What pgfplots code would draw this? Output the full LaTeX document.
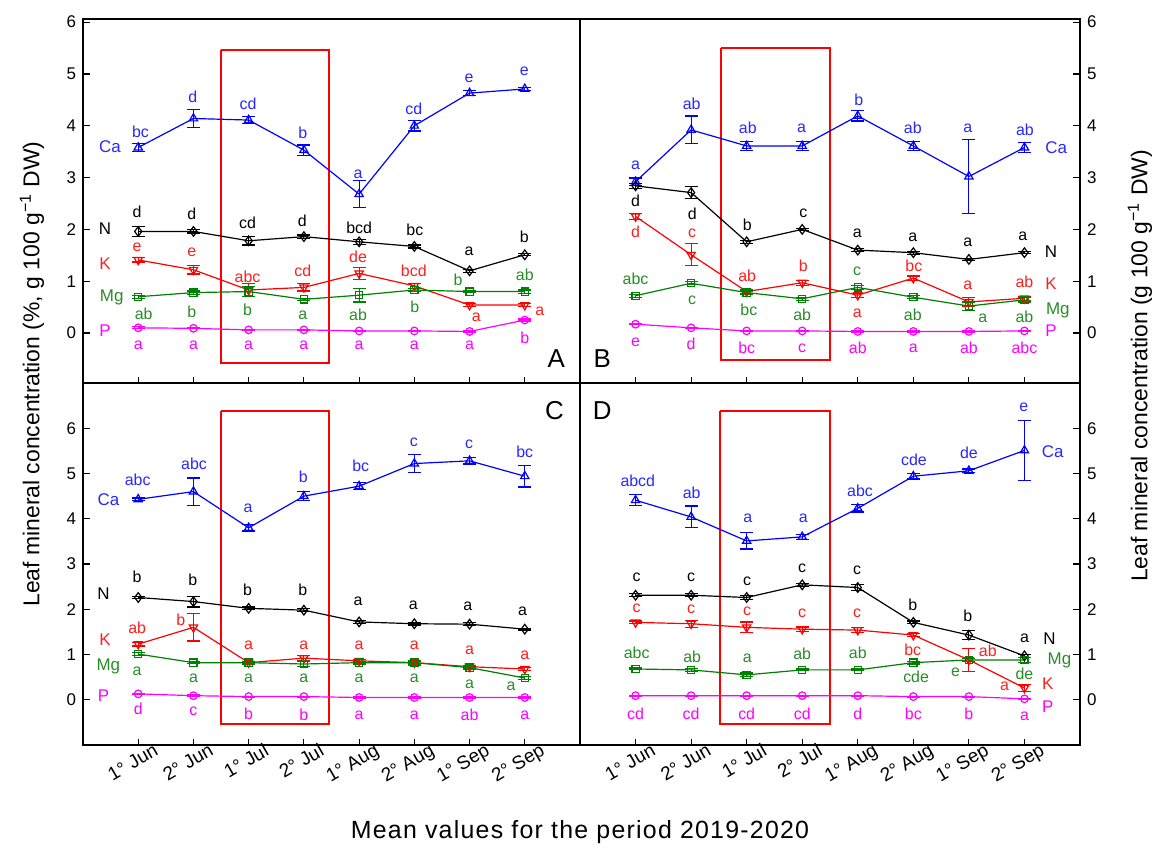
\documentclass[border=0pt]{standalone}
\usepackage{fontspec}
\setmainfont{Liberation Sans}
\usepackage{pgfplots}
\pgfplotsset{compat=1.18}
\definecolor{cablue}{RGB}{0,0,255}
\definecolor{catext}{RGB}{40,40,255}
\definecolor{kred}{RGB}{255,0,0}
\definecolor{ktext}{RGB}{255,30,30}
\definecolor{mggreen}{RGB}{0,128,0}
\definecolor{mgtext}{RGB}{40,140,40}
\definecolor{pmag}{RGB}{255,0,255}
\newcommand\labfont{\fontsize{8}{9}\selectfont}
\newcommand\serfont{\fontsize{8.5}{10}\selectfont}
\newcommand\panfont{\fontsize{13}{15}\selectfont}
\newcommand\tickfont{\fontsize{8.5}{10}\selectfont}
\newcommand\axfont{\fontsize{11.5}{13}\selectfont}
\newcommand{\T}[4]{\node[text=#1,font=\labfont,inner sep=0pt,anchor=center] at (axis cs:#2,#3) {#4};}
\newcommand{\SL}[4]{\node[text=#1,font=\serfont,inner sep=0pt,anchor=center] at (axis cs:#2,#3) {#4};}
\newcommand{\PL}[3]{\node[font=\panfont,inner sep=0pt,anchor=center] at (axis cs:#1,#2) {#3};}
\pgfplotsset{
  panel/.style={
    scale only axis, clip=false,
    xmin=0, xmax=9, xtick={1,...,8},
    tick align=inside, xtick pos=bottom,
    major tick length=3.25bp,
    tick style={line width=0.6pt, black},
    axis line style={line width=0.8pt},
    ytick={0,...,6},
    tick label style={font=\tickfont},
    /pgf/number format/assume math mode=true,
  },
  toppanel/.style={panel, height=182bp, ymin=-0.965, ymax=6.06, xticklabels={}},
  botpanel/.style={panel, height=181bp, ymin=-1, ymax=7,
    xticklabels={1° Jun, 2° Jun, 1° Jul, 2° Jul, 1° Aug, 2° Aug, 1° Sep, 2° Sep},
    xticklabel style={rotate=30, anchor=north east, font=\fontsize{9.5}{11}\selectfont, inner sep=1bp, xshift=8bp, yshift=-1.5bp}},
  leftpanel/.style={ytick pos=left},
  rightpanel/.style={ytick pos=right, yticklabel pos=right},
  box/.style={color=kred, line width=1pt, no marks},
  ca/.style={color=cablue, line width=0.6pt, mark=triangle, mark size=2.4bp, mark options={fill=white,solid}},
  nn/.style={color=black, line width=0.6pt, mark=diamond, mark size=2.4bp, mark options={fill=white,solid}},
  kk/.style={color=kred, line width=0.6pt, mark=triangle, mark size=2.4bp, mark options={fill=white,solid,rotate=180}},
  mg/.style={color=mggreen, line width=0.6pt, mark=square, mark size=1.8bp, mark options={fill=white,solid}},
  pp/.style={color=pmag, line width=0.6pt, mark=o, mark size=1.9bp, mark options={fill=white,solid}},
  eb/.style={error bars/.cd, y dir=both, y explicit,
    error mark options={rotate=90, mark size=3.25bp, line width=0.6pt},
    error bar style={line width=0.6pt}},
}
\begin{document}
\begin{tikzpicture}
\path[use as bounding box] (0,0) rectangle (578.5bp,-424bp);
% ---------------- A ----------------
\begin{axis}[toppanel, leftpanel, width=248.5bp, at={(41.5bp,-191.5bp)}, anchor=south west]
\addplot[box] coordinates {(2.5,5.46) (4.45,5.46) (4.45,-0.57) (2.5,-0.57) (2.5,5.46)};
\addplot[ca,eb] coordinates {(1,3.58)+-(0,0.08) (2,4.14)+-(0,0.18) (3,4.11)+-(0,0.07) (4,3.53)+-(0,0.1) (5,2.68)+-(0,0.26) (6,4.0)+-(0,0.1) (7,4.63)+-(0,0.05) (8,4.71)+-(0,0.03)};
\addplot[nn,eb] coordinates {(1,1.96)+-(0,0.1) (2,1.96)+-(0,0.03) (3,1.78)+-(0,0.08) (4,1.86)+-(0,0.03) (5,1.76)+-(0,0.05) (6,1.67)+-(0,0.03) (7,1.20)+-(0,0.03) (8,1.51)+-(0,0.02)};
\addplot[kk,eb] coordinates {(1,1.41)+-(0,0.04) (2,1.22)+-(0,0.08) (3,0.83)+-(0,0.13) (4,0.88)+-(0,0.07) (5,1.15)+-(0,0.12) (6,0.91)+-(0,0.05) (7,0.54)+-(0,0.03) (8,0.54)+-(0,0.03)};
\addplot[mg,eb] coordinates {(1,0.70)+-(0,0.03) (2,0.78)+-(0,0.03) (3,0.80)+-(0,0.1) (4,0.65)+-(0,0.02) (5,0.73)+-(0,0.13) (6,0.83)+-(0,0.03) (7,0.80)+-(0,0.02) (8,0.80)+-(0,0.03)};
\addplot[pp,eb] coordinates {(1,0.10)+-(0,0.02) (2,0.09)+-(0,0.01) (3,0.06)+-(0,0.01) (4,0.06)+-(0,0.01) (5,0.04)+-(0,0.01) (6,0.04)+-(0,0.01) (7,0.03)+-(0,0.01) (8,0.25)+-(0,0.02)};
\T{catext}{1.04}{3.89}{bc}\T{catext}{1.99}{4.56}{d}\T{catext}{2.99}{4.42}{cd}\T{catext}{3.98}{3.87}{b}
\T{catext}{4.98}{3.07}{a}\T{catext}{5.99}{4.32}{cd}\T{catext}{6.99}{4.92}{e}\T{catext}{7.99}{5.06}{e}
\SL{catext}{0.49}{3.60}{Ca}
\T{black}{0.98}{2.33}{d}\T{black}{1.97}{2.30}{d}\T{black}{2.98}{2.12}{cd}\T{black}{3.97}{2.16}{d}
\T{black}{5.0}{2.04}{bcd}\T{black}{6.01}{2.0}{bc}\T{black}{6.99}{1.57}{a}\T{black}{7.99}{1.85}{b}
\SL{black}{0.40}{2.01}{N}
\T{ktext}{0.98}{1.66}{e}\T{ktext}{1.97}{1.55}{e}\T{ktext}{2.98}{1.08}{abc}\T{ktext}{3.98}{1.21}{cd}
\T{ktext}{4.98}{1.48}{de}\T{ktext}{5.99}{1.20}{bcd}\T{ktext}{7.12}{0.31}{a}\T{ktext}{8.27}{0.41}{a}
\SL{ktext}{0.40}{1.34}{K}
\T{mgtext}{1.10}{0.38}{ab}\T{mgtext}{1.97}{0.41}{b}\T{mgtext}{2.98}{0.44}{b}\T{mgtext}{3.98}{0.35}{a}
\T{mgtext}{4.98}{0.35}{ab}\T{mgtext}{6.01}{0.50}{b}\T{mgtext}{6.79}{1.02}{b}\T{mgtext}{8.0}{1.12}{ab}
\SL{mgtext}{0.52}{0.69}{Mg}
\T{pmag}{1}{-0.23}{a}\T{pmag}{2}{-0.23}{a}\T{pmag}{3}{-0.23}{a}\T{pmag}{4}{-0.23}{a}
\T{pmag}{5}{-0.23}{a}\T{pmag}{6}{-0.23}{a}\T{pmag}{7}{-0.23}{a}\T{pmag}{8}{-0.10}{b}
\SL{pmag}{0.40}{0.04}{P}
\PL{8.57}{-0.50}{A}
\end{axis}
% ---------------- B ----------------
\begin{axis}[toppanel, rightpanel, width=250bp, at={(290bp,-191.5bp)}, anchor=south west]
\addplot[box] coordinates {(2.54,5.50) (4.5,5.50) (4.5,-0.53) (2.54,-0.53) (2.54,5.50)};
\addplot[ca,eb] coordinates {(1,2.92)+-(0,0.07) (2,3.92)+-(0,0.27) (3,3.61)+-(0,0.08) (4,3.61)+-(0,0.08) (5,4.19)+-(0,0.1) (6,3.61)+-(0,0.09) (7,3.02)+-(0,0.72) (8,3.58)+-(0,0.1)};
\addplot[nn,eb] coordinates {(1,2.84)+-(0,0.05) (2,2.71)+-(0,0.12) (3,1.76)+-(0,0.03) (4,2.0)+-(0,0.02) (5,1.60)+-(0,0.03) (6,1.55)+-(0,0.03) (7,1.42)+-(0,0.02) (8,1.55)+-(0,0.02)};
\addplot[kk,eb] coordinates {(1,2.25)+-(0,0.06) (2,1.51)+-(0,0.21) (3,0.80)+-(0,0.03) (4,0.97)+-(0,0.05) (5,0.73)+-(0,0.04) (6,1.06)+-(0,0.04) (7,0.60)+-(0,0.08) (8,0.67)+-(0,0.04)};
\addplot[mg,eb] coordinates {(1,0.72)+-(0,0.03) (2,0.96)+-(0,0.03) (3,0.78)+-(0,0.03) (4,0.66)+-(0,0.03) (5,0.88)+-(0,0.04) (6,0.69)+-(0,0.03) (7,0.52)+-(0,0.08) (8,0.64)+-(0,0.04)};
\addplot[pp,eb] coordinates {(1,0.17)+-(0,0.01) (2,0.10)+-(0,0.01) (3,0.04)+-(0,0.01) (4,0.04)+-(0,0.01) (5,0.03)+-(0,0.01) (6,0.03)+-(0,0.01) (7,0.03)+-(0,0.01) (8,0.04)+-(0,0.01)};
\T{catext}{1.0}{3.23}{a}\T{catext}{2.01}{4.42}{ab}\T{catext}{3.02}{3.96}{ab}\T{catext}{3.99}{3.96}{a}
\T{catext}{5.02}{4.50}{b}\T{catext}{5.99}{3.96}{ab}\T{catext}{6.98}{3.96}{a}\T{catext}{8.01}{3.92}{ab}
\SL{catext}{8.57}{3.58}{Ca}
\T{black}{1.0}{2.56}{d}\T{black}{2.02}{2.30}{d}\T{black}{3.01}{2.08}{b}\T{black}{4.02}{2.32}{c}
\T{black}{4.99}{1.93}{a}\T{black}{5.99}{1.84}{a}\T{black}{6.98}{1.76}{a}\T{black}{7.97}{1.87}{a}
\SL{black}{8.48}{1.57}{N}
\T{ktext}{1.0}{1.95}{d}\T{ktext}{2.02}{1.92}{c}\T{ktext}{3.01}{1.10}{ab}\T{ktext}{4.02}{1.29}{b}
\T{ktext}{4.99}{0.38}{a}\T{ktext}{6.01}{1.29}{bc}\T{ktext}{6.98}{0.92}{a}\T{ktext}{8.0}{0.99}{ab}
\SL{ktext}{8.48}{0.96}{K}
\T{mgtext}{1.0}{1.05}{abc}\T{mgtext}{2.02}{0.64}{c}\T{mgtext}{3.04}{0.44}{bc}\T{mgtext}{4.0}{0.35}{ab}
\T{mgtext}{4.99}{1.20}{c}\T{mgtext}{5.99}{0.35}{ab}\T{mgtext}{7.25}{0.28}{a}\T{mgtext}{8.0}{0.32}{ab}
\SL{mgtext}{8.6}{0.44}{Mg}
\T{pmag}{1}{-0.17}{e}\T{pmag}{2}{-0.21}{d}\T{pmag}{3}{-0.29}{bc}\T{pmag}{4}{-0.29}{c}
\T{pmag}{5}{-0.29}{ab}\T{pmag}{6}{-0.29}{a}\T{pmag}{7}{-0.29}{ab}\T{pmag}{8}{-0.29}{abc}
\SL{pmag}{8.48}{0.04}{P}
\PL{0.4}{-0.49}{B}
\end{axis}
% ---------------- C ----------------
\begin{axis}[botpanel, leftpanel, width=248.5bp, at={(41.5bp,-372.5bp)}, anchor=south west]
\addplot[box] coordinates {(2.5,6.38) (4.45,6.38) (4.45,-0.54) (2.5,-0.54) (2.5,6.38)};
\addplot[ca,eb] coordinates {(1,4.43)+-(0,0.03) (2,4.60)+-(0,0.3) (3,3.80)+-(0,0.07) (4,4.50)+-(0,0.1) (5,4.72)+-(0,0.08) (6,5.22)+-(0,0.2) (7,5.28)+-(0,0.07) (8,4.94)+-(0,0.24)};
\addplot[nn,eb] coordinates {(1,2.26)+-(0,0.03) (2,2.17)+-(0,0.12) (3,2.02)+-(0,0.03) (4,1.98)+-(0,0.03) (5,1.72)+-(0,0.03) (6,1.68)+-(0,0.03) (7,1.67)+-(0,0.03) (8,1.56)+-(0,0.02)};
\addplot[kk,eb] coordinates {(1,1.23)+-(0,0.04) (2,1.60)+-(0,0.3) (3,0.82)+-(0,0.03) (4,0.92)+-(0,0.05) (5,0.86)+-(0,0.03) (6,0.82)+-(0,0.03) (7,0.73)+-(0,0.03) (8,0.68)+-(0,0.04)};
\addplot[mg,eb] coordinates {(1,1.01)+-(0,0.04) (2,0.82)+-(0,0.02) (3,0.82)+-(0,0.03) (4,0.79)+-(0,0.05) (5,0.82)+-(0,0.03) (6,0.82)+-(0,0.05) (7,0.71)+-(0,0.03) (8,0.48)+-(0,0.03)};
\addplot[pp,eb] coordinates {(1,0.13)+-(0,0.01) (2,0.09)+-(0,0.02) (3,0.07)+-(0,0.01) (4,0.07)+-(0,0.01) (5,0.05)+-(0,0.01) (6,0.05)+-(0,0.01) (7,0.05)+-(0,0.01) (8,0.05)+-(0,0.01)};
\T{catext}{0.99}{4.87}{abc}\T{catext}{2.01}{5.21}{abc}\T{catext}{2.99}{4.23}{a}\T{catext}{3.99}{4.92}{b}
\T{catext}{5.03}{5.17}{bc}\T{catext}{5.99}{5.70}{c}\T{catext}{6.99}{5.65}{c}\T{catext}{8.0}{5.48}{bc}
\SL{catext}{0.46}{4.43}{Ca}
\T{black}{0.98}{2.72}{b}\T{black}{1.99}{2.65}{b}\T{black}{2.98}{2.44}{b}\T{black}{3.98}{2.44}{b}
\T{black}{4.98}{2.17}{a}\T{black}{5.98}{2.09}{a}\T{black}{6.97}{2.06}{a}\T{black}{7.96}{1.95}{a}
\SL{black}{0.37}{2.35}{N}
\T{ktext}{0.98}{1.58}{ab}\T{ktext}{1.77}{1.76}{b}\T{ktext}{3}{1.21}{a}\T{ktext}{4}{1.21}{a}
\T{ktext}{5}{1.21}{a}\T{ktext}{6}{1.21}{a}\T{ktext}{7}{1.10}{a}\T{ktext}{8}{0.99}{a}
\SL{ktext}{0.40}{1.32}{K}
\T{mgtext}{0.98}{0.62}{a}\T{mgtext}{2}{0.47}{a}\T{mgtext}{3}{0.47}{a}\T{mgtext}{4}{0.47}{a}
\T{mgtext}{5}{0.47}{a}\T{mgtext}{6}{0.47}{a}\T{mgtext}{7}{0.35}{a}\T{mgtext}{7.75}{0.30}{a}
\SL{mgtext}{0.46}{0.73}{Mg}
\T{pmag}{1}{-0.21}{d}\T{pmag}{2}{-0.26}{c}\T{pmag}{3}{-0.31}{b}\T{pmag}{4}{-0.33}{b}
\T{pmag}{5}{-0.34}{a}\T{pmag}{6}{-0.34}{a}\T{pmag}{7}{-0.34}{ab}\T{pmag}{8}{-0.34}{a}
\SL{pmag}{0.37}{0.10}{P}
\PL{8.54}{6.40}{C}
\end{axis}
% ---------------- D ----------------
\begin{axis}[botpanel, rightpanel, width=250bp, at={(290bp,-372.5bp)}, anchor=south west]
\addplot[box] coordinates {(2.52,6.38) (4.5,6.38) (4.5,-0.54) (2.52,-0.54) (2.52,6.38)};
\addplot[ca,eb] coordinates {(1,4.41)+-(0,0.12) (2,4.04)+-(0,0.24) (3,3.51)+-(0,0.18) (4,3.60)+-(0,0.05) (5,4.23)+-(0,0.08) (6,4.94)+-(0,0.06) (7,5.06)+-(0,0.04) (8,5.51)+-(0,0.66)};
\addplot[nn,eb] coordinates {(1,2.31)+-(0,0.03) (2,2.31)+-(0,0.03) (3,2.26)+-(0,0.05) (4,2.54)+-(0,0.03) (5,2.48)+-(0,0.07) (6,1.71)+-(0,0.03) (7,1.43)+-(0,0.1) (8,0.97)+-(0,0.03)};
\addplot[kk,eb] coordinates {(1,1.71)+-(0,0.03) (2,1.68)+-(0,0.08) (3,1.60)+-(0,0.12) (4,1.56)+-(0,0.05) (5,1.54)+-(0,0.05) (6,1.43)+-(0,0.03) (7,0.88)+-(0,0.26) (8,0.26)+-(0,0.07)};
\addplot[mg,eb] coordinates {(1,0.68)+-(0,0.02) (2,0.66)+-(0,0.03) (3,0.55)+-(0,0.04) (4,0.66)+-(0,0.02) (5,0.66)+-(0,0.02) (6,0.82)+-(0,0.03) (7,0.88)+-(0,0.03) (8,0.88)+-(0,0.06)};
\addplot[pp,eb] coordinates {(1,0.09)+-(0,0.01) (2,0.09)+-(0,0.01) (3,0.09)+-(0,0.01) (4,0.09)+-(0,0.01) (5,0.09)+-(0,0.01) (6,0.07)+-(0,0.01) (7,0.07)+-(0,0.01) (8,0.02)+-(0,0.01)};
\T{catext}{1.04}{4.84}{abcd}\T{catext}{2.01}{4.58}{ab}\T{catext}{3.02}{4.01}{a}\T{catext}{4.02}{4.01}{a}
\T{catext}{5.04}{4.62}{abc}\T{catext}{6.01}{5.31}{cde}\T{catext}{7.0}{5.45}{de}\T{catext}{7.99}{6.46}{e}
\SL{catext}{8.51}{5.48}{Ca}
\T{black}{1.02}{2.71}{c}\T{black}{2.0}{2.71}{c}\T{black}{3.01}{2.61}{c}\T{black}{4.0}{2.90}{c}
\T{black}{4.99}{2.87}{c}\T{black}{5.99}{2.09}{b}\T{black}{6.98}{1.85}{b}\T{black}{8.0}{1.36}{a}
\SL{black}{8.45}{1.36}{N}
\T{ktext}{1.02}{2.02}{c}\T{ktext}{2.0}{2.0}{c}\T{ktext}{3.01}{1.95}{c}\T{ktext}{4.0}{1.92}{c}
\T{ktext}{4.99}{1.91}{c}\T{ktext}{5.99}{1.11}{bc}\T{ktext}{7.34}{1.08}{ab}\T{ktext}{7.64}{0.30}{a}
\SL{ktext}{8.42}{0.36}{K}
\T{mgtext}{1.02}{1.04}{abc}\T{mgtext}{2.02}{0.95}{ab}\T{mgtext}{3.01}{0.92}{a}\T{mgtext}{4.0}{1.01}{ab}
\T{mgtext}{5.0}{1.04}{ab}\T{mgtext}{6.05}{0.50}{cde}\T{mgtext}{6.76}{0.60}{e}\T{mgtext}{8.0}{0.58}{de}
\SL{mgtext}{8.63}{0.88}{Mg}
\T{pmag}{1}{-0.30}{cd}\T{pmag}{2}{-0.30}{cd}\T{pmag}{3}{-0.30}{cd}\T{pmag}{4}{-0.30}{cd}
\T{pmag}{5}{-0.30}{d}\T{pmag}{6}{-0.30}{bc}\T{pmag}{7}{-0.31}{b}\T{pmag}{8}{-0.37}{a}
\SL{pmag}{8.42}{-0.15}{P}
\PL{0.4}{6.40}{D}
\end{axis}
\node[rotate=90, font=\axfont, anchor=center] at (16bp,-187bp) {Leaf mineral concentration (\%, g 100 g\textsuperscript{−1} DW)};
\node[rotate=90, font=\axfont, anchor=center] at (570bp,-183bp) {Leaf mineral concentration (g 100 g\textsuperscript{−1} DW)};
\node[font=\fontsize{12.5}{14}\selectfont\addfontfeatures{LetterSpace=5}, anchor=center] at (290bp,-416bp) {Mean values for the period 2019-2020};
\end{tikzpicture}
\end{document}
